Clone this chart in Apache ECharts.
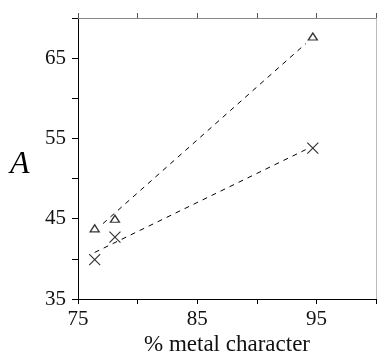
<!DOCTYPE html>
<html><head><meta charset="utf-8">
<script src="https://cdn.jsdelivr.net/npm/echarts@6/dist/echarts.min.js"></script>
<style>html,body{margin:0;padding:0;background:#fff}#c{width:377px;height:358px}</style>
</head><body><div id="c"></div>
<script>
const xLabels = [75, 85, 95];
const yLabels = [35, 45, 55, 65];
const triX = [76.4, 78.1, 94.7];
const triY = [43.8, 45.0, 67.7];
const crossX = [76.4, 78.1, 94.7];
const crossY = [39.9, 42.7, 53.8];
const fitTriX = [77.1, 94.1];
const fitTriY = [44.4, 66.8];
const fitCrossX = [76.4, 94.1];
const fitCrossY = [40.8, 53.6];
const xTitle = '% metal character';
const yTitle = 'A';

const FONT = "'Liberation Serif','DejaVu Serif',serif";
const zip = (a, b) => a.map((v, i) => [v, b[i]]);
const chart = echarts.init(document.getElementById('c'), null, {renderer: 'canvas'});
chart.setOption({
  animation: false,
  backgroundColor: '#fff',
  grid: {left: 78, right: 1, top: 18, bottom: 59, containLabel: false, outerBoundsMode: 'none'},
  xAxis: [{
    type: 'value', min: 75, max: 100, interval: 5, position: 'bottom',
    axisLine: {show: true, lineStyle: {color: '#000', width: 1}},
    axisTick: {show: true, inside: false, length: 5, lineStyle: {color: '#000'}},
    axisLabel: {margin: 10, color: '#111', fontFamily: FONT, fontSize: 21,
      formatter: v => xLabels.includes(v) ? String(v) : ''},
    splitLine: {show: false}
  }, {
    type: 'value', min: 75, max: 100, interval: 5, position: 'top',
    axisLine: {show: true, lineStyle: {color: '#888', width: 1}},
    axisTick: {show: true, inside: false, length: 5, lineStyle: {color: '#555'}},
    axisLabel: {show: false}, splitLine: {show: false}
  }],
  yAxis: [{
    type: 'value', min: 35, max: 70, interval: 5, position: 'left',
    axisLine: {show: true, lineStyle: {color: '#000', width: 1}},
    axisTick: {show: true, inside: false, length: 6, lineStyle: {color: '#000'}},
    axisLabel: {margin: 12, color: '#111', fontFamily: FONT, fontSize: 21,
      formatter: v => yLabels.includes(v) ? String(v) : ''},
    splitLine: {show: false}
  }, {
    type: 'value', min: 35, max: 70, interval: 5, position: 'right',
    axisLine: {show: true, lineStyle: {color: '#bbb', width: 1}},
    axisTick: {show: false}, axisLabel: {show: false}, splitLine: {show: false}
  }],
  graphic: [{
    type: 'text', left: 10, top: 149,
    style: {text: yTitle, fill: '#000', font: "italic 32px " + FONT}
  }, {
    type: 'text', x: 227, y: 345,
    style: {text: xTitle, fill: '#111', font: "23px " + FONT, align: 'center', verticalAlign: 'middle'}
  }],
  series: [{
    type: 'line', data: zip(fitTriX, fitTriY), symbol: 'none', silent: true,
    lineStyle: {color: '#000', width: 1, type: [5, 5]}
  }, {
    type: 'line', data: zip(fitCrossX, fitCrossY), symbol: 'none', silent: true,
    lineStyle: {color: '#000', width: 1, type: [5, 5]}
  }, {
    type: 'scatter', data: zip(triX, triY), symbol: 'triangle', symbolSize: [9, 7],
    itemStyle: {color: '#fff', borderColor: '#000', borderWidth: 1.3}
  }, {
    type: 'scatter', data: zip(crossX, crossY), symbol: 'path://M0 0L10 10M10 0L0 10', symbolSize: 11,
    itemStyle: {color: 'rgba(0,0,0,0)', borderColor: '#000', borderWidth: 1.2}
  }]
});
</script></body></html>
